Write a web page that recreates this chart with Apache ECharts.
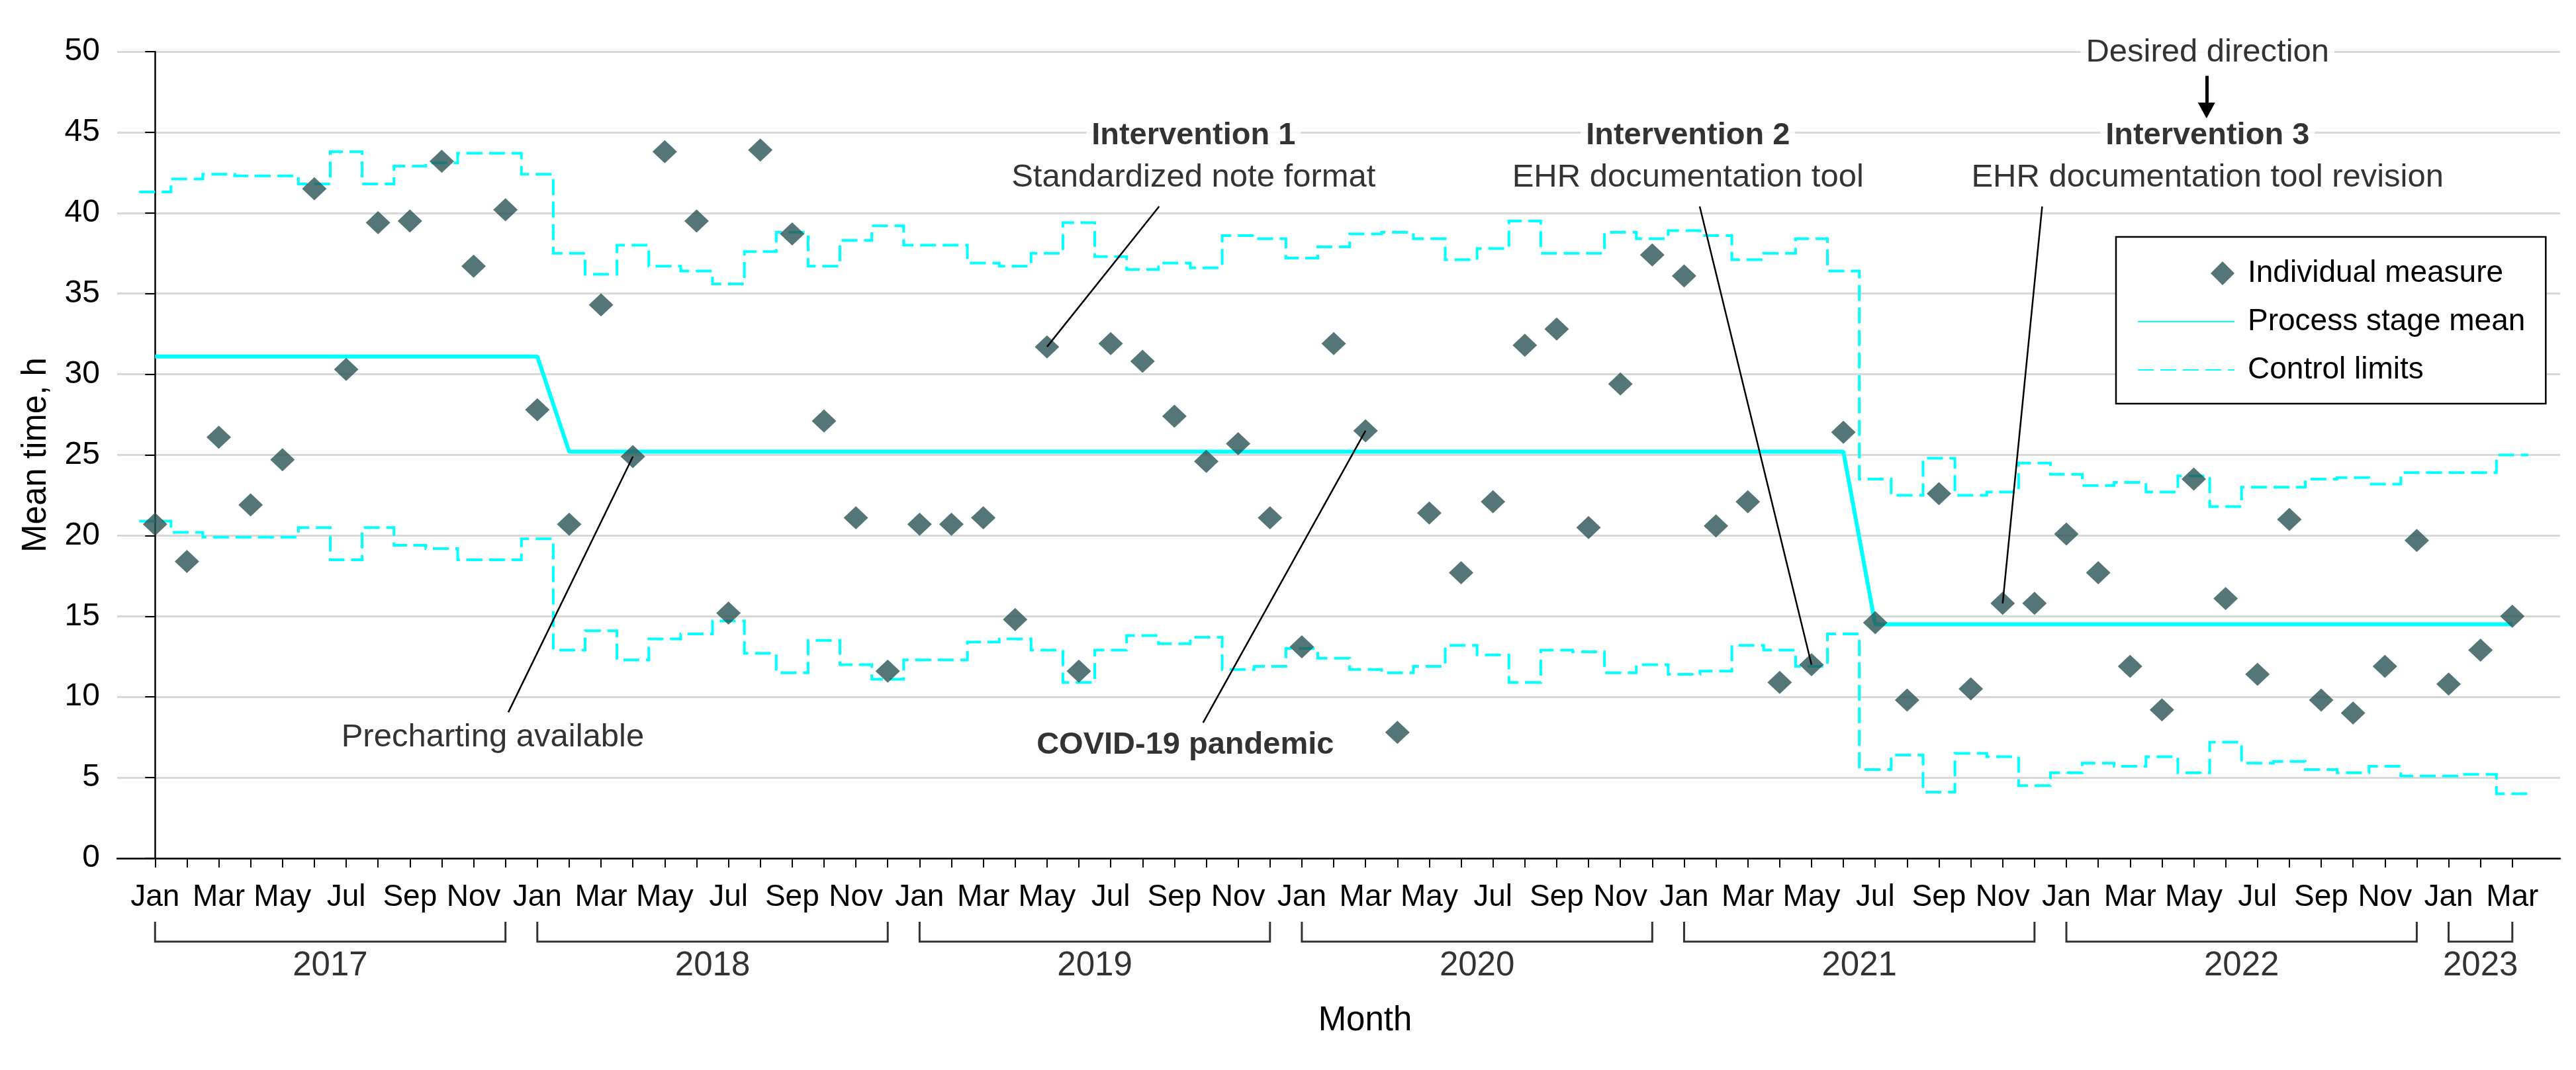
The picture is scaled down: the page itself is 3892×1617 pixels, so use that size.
<!DOCTYPE html>
<html><head><meta charset="utf-8">
<script src="https://cdn.jsdelivr.net/npm/echarts@6/dist/echarts.min.js"></script>
<style>html,body{margin:0;padding:0;background:#fff}#c{width:3892px;height:1617px}</style>
</head><body><div id="c"></div>
<script>
// ---------- data ----------
const monthNames = ['Jan','Feb','Mar','Apr','May','Jun','Jul','Aug','Sep','Oct','Nov','Dec'];
const yearLabels = ['2017','2018','2019','2020','2021','2022','2023'];
const yearMonthCounts = [12,12,12,12,12,12,3];

// Individual measure, Jan 2017 .. Mar 2023 (75 months)
const individual = [
  20.7,18.4,26.1,21.9,24.7,41.5,30.3,39.4,39.5,43.2,36.7,40.2,
  27.8,20.7,34.3,24.9,43.8,39.5,15.2,43.9,38.7,27.1,21.1,11.6,
  20.7,20.7,21.1,14.8,31.7,11.6,31.9,30.8,27.4,24.6,25.7,21.1,
  13.1,31.9,26.5,7.8,21.4,17.7,22.1,31.8,32.8,20.5,29.4,37.4,
  36.1,20.6,22.1,10.9,12.0,26.4,14.6,9.8,22.6,10.5,15.8,15.8,
  20.1,17.7,11.9,9.2,23.5,16.1,11.4,21.0,9.8,9.0,11.9,19.7,
  10.8,12.9,15.0
];
// Process stage mean per month
const processMean = [
  31.1,31.1,31.1,31.1,31.1,31.1,31.1,31.1,31.1,31.1,31.1,31.1,
  31.1,25.2,25.2,25.2,25.2,25.2,25.2,25.2,25.2,25.2,25.2,25.2,
  25.2,25.2,25.2,25.2,25.2,25.2,25.2,25.2,25.2,25.2,25.2,25.2,
  25.2,25.2,25.2,25.2,25.2,25.2,25.2,25.2,25.2,25.2,25.2,25.2,
  25.2,25.2,25.2,25.2,25.2,25.2,14.5,14.5,14.5,14.5,14.5,14.5,
  14.5,14.5,14.5,14.5,14.5,14.5,14.5,14.5,14.5,14.5,14.5,14.5,
  14.5,14.5,14.5
];
// Upper control limit per month
const upperLimit = [
  41.3,42.1,42.4,42.3,42.3,41.8,43.8,41.8,42.9,43.1,43.7,43.7,
  42.4,37.5,36.2,38.0,36.7,36.4,35.6,37.6,38.8,36.7,38.3,39.2,
  38.0,38.0,36.9,36.7,37.5,39.4,37.3,36.5,36.9,36.6,38.6,38.4,
  37.2,37.9,38.7,38.8,38.4,37.1,37.8,39.5,37.5,37.5,38.8,38.4,
  38.9,38.6,37.1,37.5,38.4,36.4,23.5,22.5,24.8,22.5,22.7,24.5,
  23.8,23.1,23.3,22.7,23.7,21.8,23.0,23.0,23.5,23.6,23.2,23.9,
  23.9,23.9,25.0
];
// Lower control limit per month
const lowerLimit = [
  20.9,20.2,19.9,19.9,19.9,20.5,18.5,20.5,19.4,19.2,18.5,18.5,
  19.8,12.9,14.1,12.3,13.6,13.9,14.7,12.7,11.5,13.5,12.0,11.1,
  12.3,12.3,13.4,13.6,12.9,10.9,12.9,13.8,13.3,13.7,11.7,11.9,
  13.0,12.4,11.7,11.5,11.9,13.2,12.6,10.9,12.9,12.8,11.5,12.0,
  11.4,11.6,13.2,12.9,11.9,13.9,5.5,6.4,4.1,6.5,6.3,4.5,
  5.3,5.9,5.7,6.3,5.3,7.2,5.9,6.0,5.5,5.3,5.7,5.1,
  5.1,5.2,4.0
];
const yTicks = [0,5,10,15,20,25,30,35,40,45,50];

// ---------- layout / styling ----------
const FF = 'Liberation Sans, Arial, sans-serif';
const CYAN = '#00ffff';
const DIAMOND = '#295454';

// annotations: [x in months since Jan 2017, y in hours]
const annotations = [
  {text:'Desired direction', x:64.43, y:49.95, bold:false},
  {text:'Intervention 1', x:32.6, y:44.8, bold:true},
  {text:'Standardized note format', x:32.6, y:42.2, bold:false},
  {text:'Intervention 2', x:48.12, y:44.8, bold:true},
  {text:'EHR documentation tool', x:48.12, y:42.2, bold:false},
  {text:'Intervention 3', x:64.43, y:44.8, bold:true},
  {text:'EHR documentation tool revision', x:64.43, y:42.2, bold:false},
  {text:'Precharting available', x:10.6, y:7.5, bold:false},
  {text:'COVID-19 pandemic', x:32.34, y:7.0, bold:true}
];
const leaders = [
  [[11.09,9.05],[15,individual[15]]],
  [[31.52,40.4],[28,individual[28]]],
  [[48.49,40.4],[52,individual[52]]],
  [[59.24,40.4],[58,individual[58]]],
  [[32.9,8.4],[38,individual[38]]]
];

function stepData(arr){
  const out=[];
  arr.forEach((v,i)=>{ out.push([i-0.5,v],[i+0.5,v]); });
  return out;
}

const monthIdx = individual.map((_,i)=>i);
const labelIdx = monthIdx.filter(i=>i%2===0);

const series = [];
series.push({
  name:'Control limits', type:'line', data:stepData(upperLimit), symbol:'none', silent:true, z:2,
  itemStyle:{color:CYAN},
  lineStyle:{color:CYAN,width:4,type:[24,10],join:'miter'}
});
series.push({
  name:'Control limits', type:'line', data:stepData(lowerLimit), symbol:'none', silent:true, z:2,
  itemStyle:{color:CYAN},
  lineStyle:{color:CYAN,width:4,type:[24,10],join:'miter'}
});
series.push({
  name:'Process stage mean', type:'line', data:processMean.map((v,i)=>[i,v]), symbol:'none', silent:true, z:3,
  itemStyle:{color:CYAN},
  lineStyle:{color:CYAN,width:6}
});
series.push({
  name:'Individual measure', type:'scatter', data:individual.map((v,i)=>[i,v]),
  symbol:'diamond', symbolSize:[37,35], itemStyle:{color:DIAMOND}, z:5, silent:true
});
leaders.forEach(seg=>{
  series.push({type:'line', data:seg, symbol:'none', silent:true, z:6,
    lineStyle:{color:'#000',width:2.5}});
});
// Desired direction arrow
series.push({
  type:'line', data:[], silent:true, z:7,
  markLine:{
    silent:true, symbol:['none','triangle'], symbolSize:[26,24],
    label:{show:false},
    lineStyle:{color:'#000',width:5,type:'solid'},
    data:[[{coord:[64.4,48.5]},{coord:[64.4,46.35]}]]
  }
});
// annotation texts
series.push({
  type:'scatter', symbolSize:1, silent:true, z:8, clip:false,
  itemStyle:{color:'rgba(0,0,0,0)'},
  data:annotations.map(a=>({
    value:[a.x,a.y],
    label:{show:true, position:'inside', formatter:a.text, color:'#000',
      fontFamily:FF, fontSize:a.bold?47:49, fontWeight:a.bold?'bold':'normal',
      backgroundColor:'#fff', padding:[3,8]}
  }))
});
// year brackets & labels under the month axis
let start=0;
const yearCenters=[];
yearMonthCounts.forEach((n,k)=>{
  const s=start, e=start+n-1;
  series.push({type:'line', clip:false, symbol:'none', silent:true, z:4,
    data:[[s,-3.94],[s,-5.17],[e,-5.17],[e,-3.94]],
    lineStyle:{color:'#333',width:3,join:'miter'}});
  yearCenters.push((s+e)/2);
  start+=n;
});
series.push({
  type:'scatter', symbolSize:1, silent:true, clip:false, z:8,
  itemStyle:{color:'rgba(0,0,0,0)'},
  data:yearLabels.map((y,k)=>({value:[yearCenters[k],-6.69],
    label:{show:true,position:'inside',formatter:y,color:'#000',fontFamily:FF,fontSize:51}}))
});

const legendDiamond = 'path://M0,0L0.01,0L0,0.01Z M146,40L145.99,40L146,39.99Z M110,20L128,2L146,20L128,38Z';

const option = {
  backgroundColor:'#fff',
  animation:false,
  grid:{left:177,right:24,top:78,bottom:320,containLabel:false},
  legend:{
    orient:'vertical', left:3197, top:358, selectedMode:false,
    itemWidth:146, itemHeight:40, itemGap:27,
    padding:[32,31,28,32], borderColor:'#000', borderWidth:2.5, backgroundColor:'#fff',
    textStyle:{fontFamily:FF, fontSize:46, color:'#000', padding:[0,0,0,15]},
    data:[
      {name:'Individual measure', icon:legendDiamond},
      {name:'Process stage mean', itemStyle:{opacity:0}},
      {name:'Control limits', itemStyle:{opacity:0}}
    ]
  },
  xAxis:{
    type:'value', min:-1.19, max:75.5,
    splitLine:{show:false},
    axisLine:{show:true,onZero:false,lineStyle:{color:'#000',width:2.5}},
    axisTick:{show:true,customValues:monthIdx,length:14,inside:false,lineStyle:{color:'#000',width:2}},
    axisLabel:{show:true,customValues:labelIdx,formatter:v=>monthNames[Math.round(v)%12],
      fontFamily:FF,fontSize:46,color:'#000',margin:36},
    name:'Month', nameLocation:'middle', nameGap:220,
    nameTextStyle:{fontFamily:FF,fontSize:51,color:'#000',padding:[0,0,0,80]}
  },
  yAxis:{
    type:'value', min:yTicks[0], max:yTicks[yTicks.length-1], interval:5,
    axisLine:{show:true,lineStyle:{color:'#000',width:2.5}},
    axisTick:{show:true,length:15,lineStyle:{color:'#000',width:2}},
    axisLabel:{fontFamily:FF,fontSize:48,color:'#000',margin:26},
    splitLine:{show:true,lineStyle:{color:'#d9d9d9',width:3}},
    name:'Mean time, h', nameLocation:'middle', nameGap:97, nameRotate:90,
    nameTextStyle:{fontFamily:FF,fontSize:51,color:'#000'}
  },
  series:series
};
const chart = echarts.init(document.getElementById('c'));
chart.setOption(option);
</script>
</body></html>
